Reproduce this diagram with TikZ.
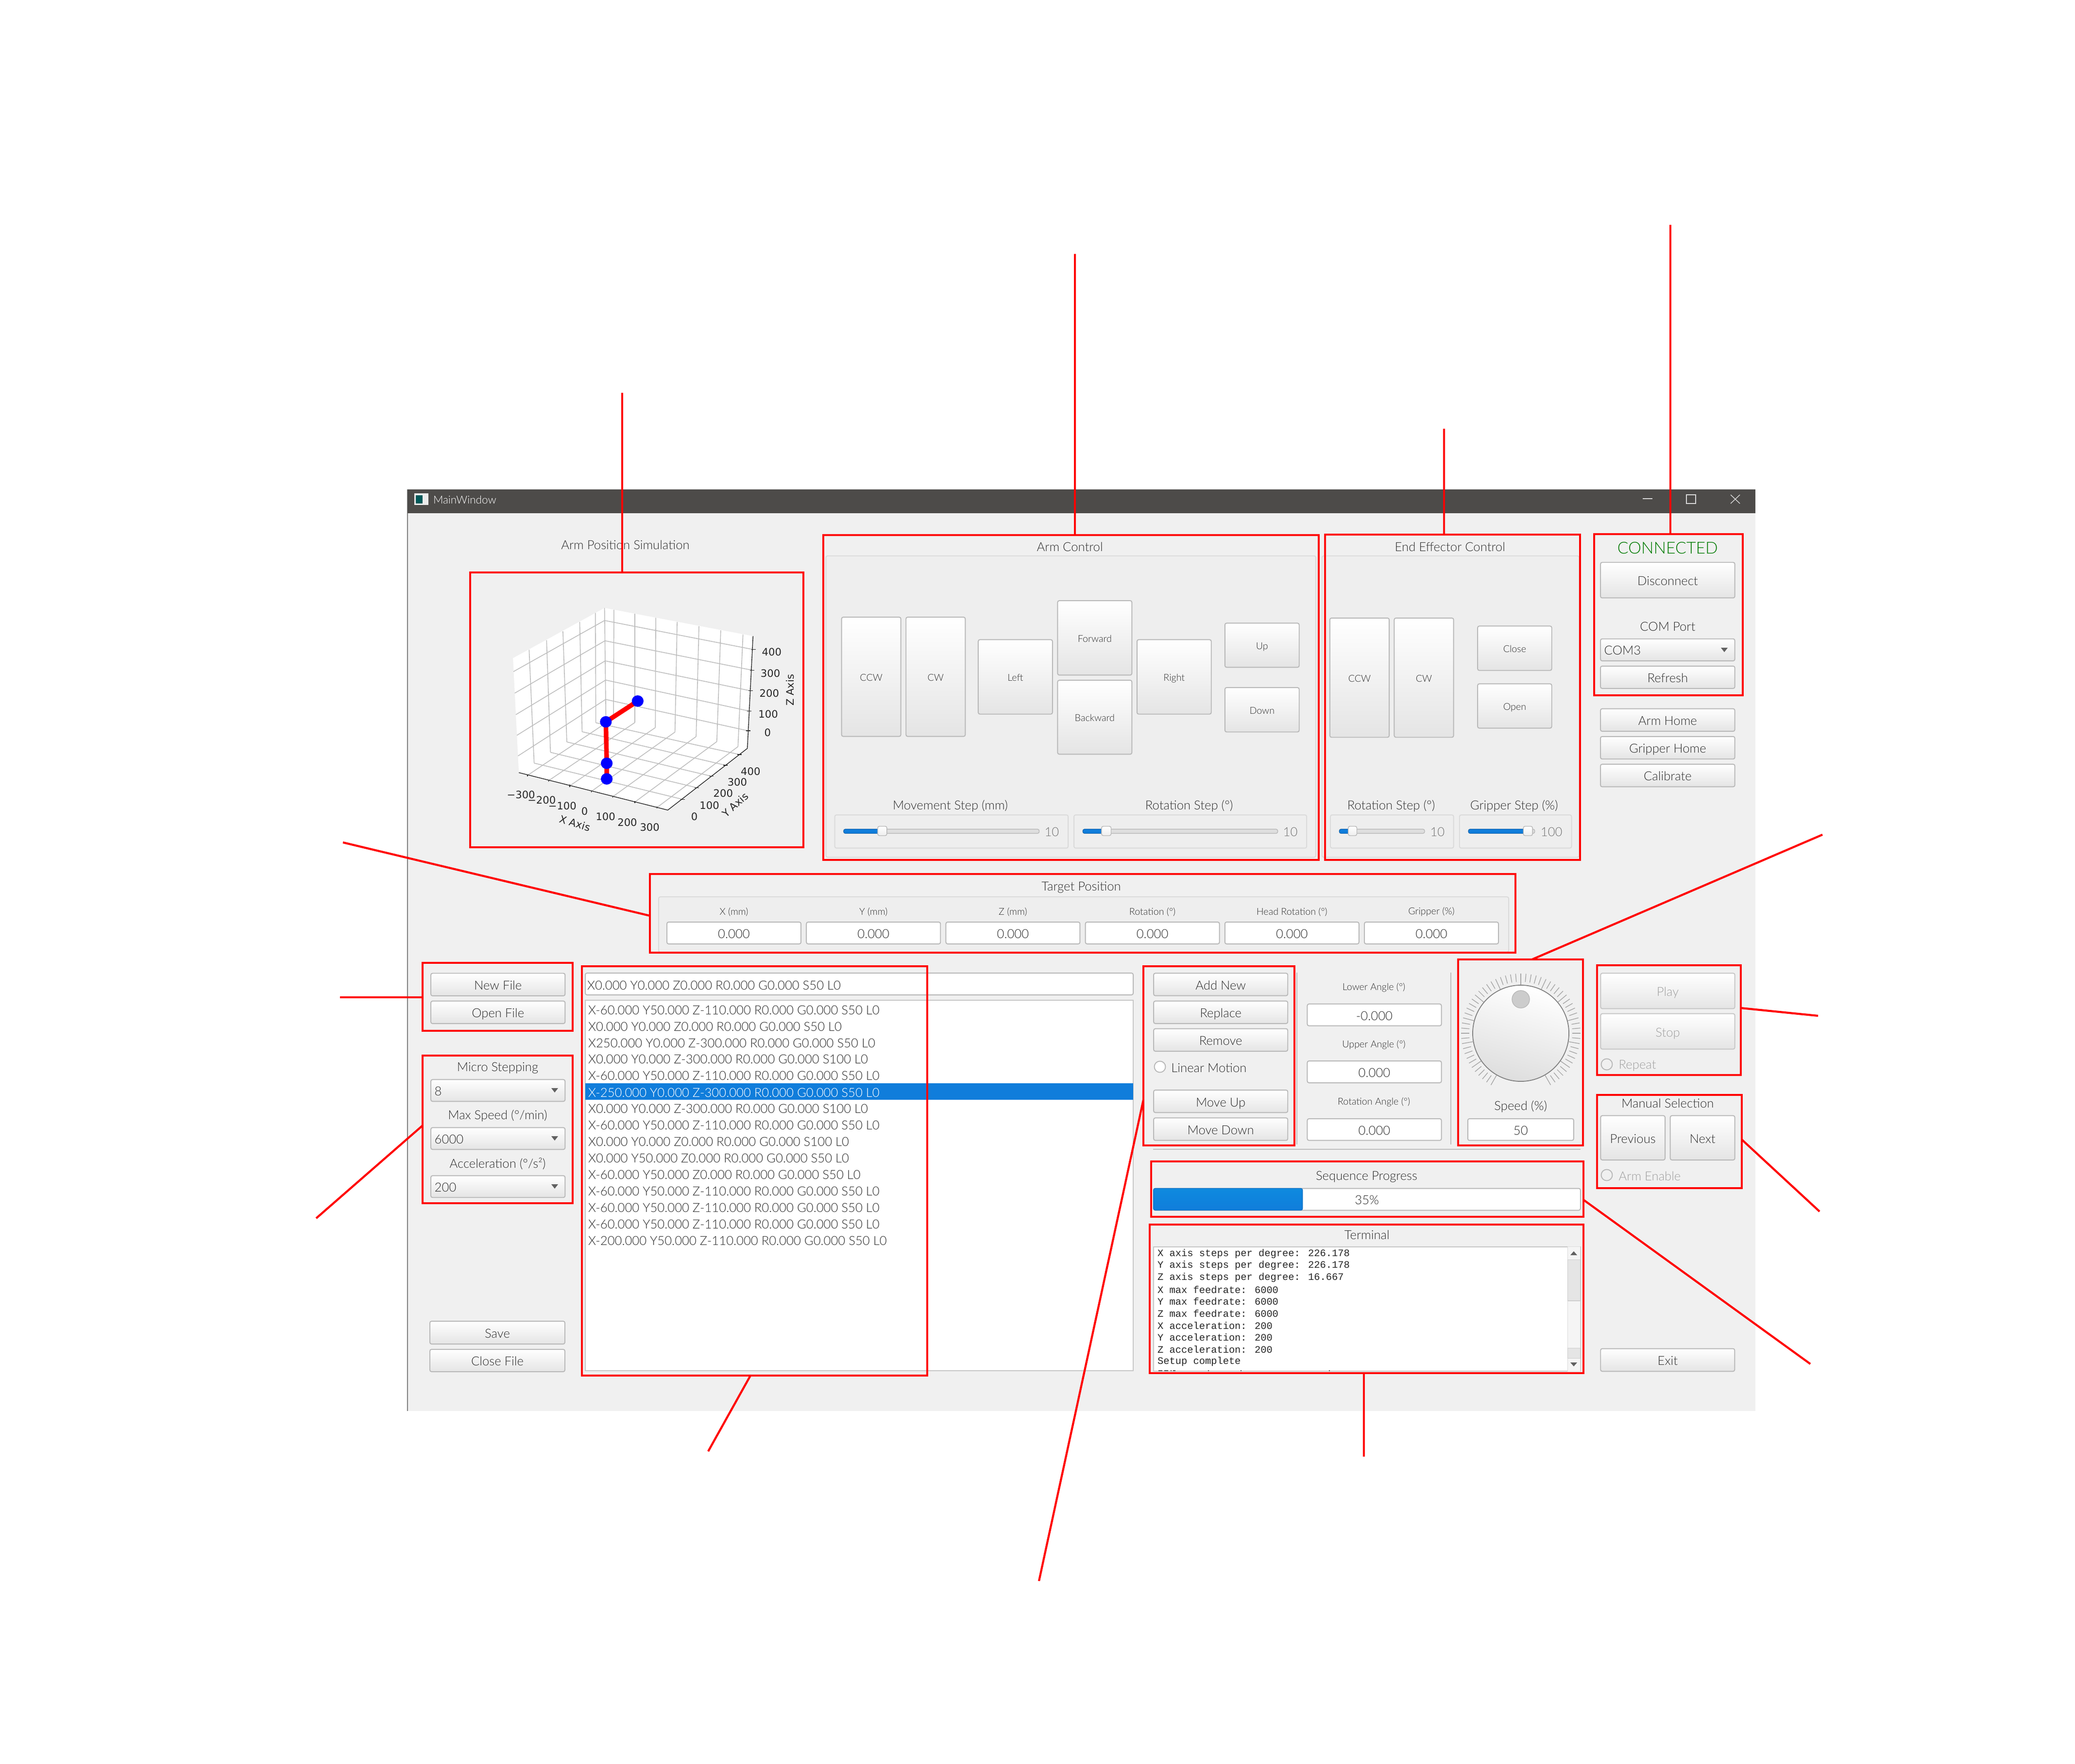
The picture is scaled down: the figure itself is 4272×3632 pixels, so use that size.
\documentclass[tikz,border=0pt]{standalone}
\usepackage{fontspec}
\setmainfont{Lato Light}
\newfontfamily\plotfam{DejaVu Sans}
\newfontfamily\termfam{Liberation Mono}
\definecolor{txtc}{HTML}{303030}
\definecolor{dimc}{HTML}{A0A0A0}
\definecolor{winbg}{HTML}{F0F0F0}
\definecolor{bar}{HTML}{4D4B49}
\definecolor{selblue}{HTML}{107DDB}
\definecolor{grp}{HTML}{EEEEEE}
\definecolor{grpl}{HTML}{DADADA}
\definecolor{btnl}{HTML}{B8B8B8}
\definecolor{gridc}{HTML}{BEBEBE}
\newcommand\fn{\fontsize{7.3}{8.5}\selectfont}
\newcommand\fs{\fontsize{5.6}{6.5}\selectfont}
\tikzset{
  txt/.style={text=txtc,font=\fn,inner sep=0pt,outer sep=0pt},
  small/.style={font=\fs},
  dim/.style={text=dimc},
  uibase/.style={inner sep=0pt,outer sep=0pt,text=txtc,font=\fn,text height=6.15pt,text depth=0pt},
  btn/.style={uibase,draw=btnl,line width=0.55pt,rounded corners=1pt,top color=white,bottom color=grp!96!black},
  btnsm/.style={btn,font=\fs,text height=5pt},
  btndim/.style={btn,text=dimc,draw=btnl!80},
  edit/.style={uibase,draw=btnl,line width=0.55pt,rounded corners=1pt,fill=white},
  grpbox/.style={uibase,draw=grpl,line width=0.55pt,rounded corners=1pt,fill=grp},
  whitebox/.style={uibase,draw=btnl!80,line width=0.55pt,fill=white},
  selband/.style={uibase,fill=selblue},
  track/.style={uibase,text height=0pt,draw=btnl,line width=0.4pt,rounded corners=1pt,fill=black!13},
  trackfill/.style={uibase,text height=0pt,draw=selblue!80!black,line width=0.3pt,rounded corners=1pt,fill=selblue},
  knobh/.style={uibase,text height=0pt,draw=btnl,line width=0.4pt,rounded corners=1pt,top color=white,bottom color=grp},
  progfill/.style={uibase,draw=selblue!90!black,line width=0.4pt,rounded corners=1pt,top color=selblue!90!cyan,bottom color=selblue},
  sbar/.style={uibase,draw=btnl!70,line width=0.3pt,fill=black!10},
  redframe/.style={draw=red,line width=1.2pt,inner sep=0pt,outer sep=0pt},
  conn/.style={draw=red,line width=1.2pt},
  radio/.style={circle,draw=btnl,line width=0.55pt,fill=white,minimum size=0.23cm,inner sep=0pt,outer sep=0pt},
  radiodim/.style={radio,fill=winbg},
  plotlab/.style={txt,font=\fontsize{6}{7}\selectfont\plotfam,text=black!85},
  term/.style={inner sep=0pt,outer sep=0pt,text=black!85,font=\fontsize{5.8}{6.5}\selectfont\termfam},
}
\newcommand\ZF[4]{\def\zox{#1}\def\zoy{#2}\def\zfx{#3}\def\zfy{#4}}
\newcommand\zrect[4]{%
  \pgfmathsetmacro\Xa{\zox+#1/\zfx}\pgfmathsetmacro\Ya{\zoy+#2/\zfy}%
  \pgfmathsetmacro\Xb{\zox+#3/\zfx}\pgfmathsetmacro\Yb{\zoy+#4/\zfy}%
  \pgfmathsetmacro\Cx{(\Xa+\Xb)/2}\pgfmathsetmacro\Cy{(\Ya+\Yb)/2}%
  \pgfmathsetmacro\Wd{(\Xb-\Xa)*0.01}\pgfmathsetmacro\Ht{(\Yb-\Ya)*0.01}}
\newcommand\Btn[7][btn]{\zrect{#3}{#4}{#5}{#6}%
  \node[#1,minimum width=\Wd cm,minimum height=\Ht cm] (#2) at (\Cx,\Cy) {#7};}
\newcommand\Lab[5][]{\pgfmathsetmacro\Xa{\zox+#3/\zfx}\pgfmathsetmacro\Ya{\zoy+#4/\zfy}%
  \node[txt,#1] (#2) at (\Xa,\Ya) {#5};}
\newcommand\Sld[6]{%
  \Btn[track]{#1t}{#2}{1367}{#3}{1386}{}%
  \Btn[trackfill]{#1f}{#2}{1367}{#4}{1386}{}%
  \Btn[knobh]{#1h}{#5}{1354}{#6}{1396}{}}
\newcommand\Tri[2]{\fill[black!62] ({#1-7},{#2-4}) -- ({#1+7},{#2-4}) -- (#1,{#2+5}) -- cycle;}
\newcommand\Frm[5]{\node[redframe,minimum width={(#4-#2)*0.01cm},minimum height={(#5-#3)*0.01cm}] (#1) at ({(#2+#4)/2},{(#3+#5)/2}) {};}
\begin{document}
\begin{tikzpicture}[x=0.01cm,y=-0.01cm]
\useasboundingbox (0,0) rectangle (4272,3632);
\fill[white] (0,0) rectangle (4272,3632);
% window
\ZF{0}{0}{1}{1}
\fill[winbg] (839,1008) rectangle (3614,2906);
\draw[black!50,line width=0.5pt] (839,1008) -- (839,2906);
\fill[bar] (839,1008) rectangle (3614,1057);
\fill[black!8] (853,1016) rectangle (882,1040);
\fill[teal!70!black] (856,1020) rectangle (870,1037);
\Lab[anchor=west,text=white,font=\fontsize{6.4}{7}\selectfont]{wintitle}{892}{1029}{MainWindow}
\draw[white!85!black,line width=0.4pt] (3382,1027) -- (3402,1027);
\draw[white!85!black,line width=0.4pt] (3472,1019) rectangle (3491,1037);
\draw[white!85!black,line width=0.4pt] (3563,1019) -- (3582,1037) (3582,1019) -- (3563,1037);
% simulation
\ZF{820}{990}{1.568}{1.96}
\Lab{simtitle}{733}{260}{Arm Position Simulation}
\begin{scope}[shift={(1000,1180)},x=0.004484cm,y=-0.0037cm]
  \fill[white] (125,475) -- (545,195) -- (1226,352) -- (1200,978) -- (835,1322) -- (152,1113) -- cycle;
  \begin{scope}[draw=gridc,line width=0.45pt]
    \foreach \a/\b/\c/\d in {545/195/551/797,588/205/586/808,684/228/684/834,780/250/778/862,878/273/868/887,978/297/965/912,1078/320/1060/940,1180/343/1157/968,
      199/428/222/1060,279/375/297/1000,354/325/372/942,431/273/442/885,503/223/505/835,
      545/265/1228/427,547/378/1222/542,548/490/1215/657,550/597/1209/770,550/705/1204/880,
      545/265/127/550,547/378/133/670,548/490/138/790,550/597/143/905,550/705/148/1020,
      192/1128/586/808,288/1158/684/834,385/1187/778/862,484/1218/868/887,583/1247/965/912,684/1277/1060/940,785/1308/1157/968,
      222/1060/903/1262,297/1000/968/1197,372/942/1035/1133,442/885/1100/1072,505/835/1163/1012}
      {\draw (\a,\b) -- (\c,\d);}
  \end{scope}
  \draw[black!85,line width=0.4pt] (152,1113) -- (835,1322) -- (1200,978) -- (1226,352);
  \foreach \a/\b in {192/1128,288/1158,385/1187,484/1218,583/1247,684/1277,785/1308}
    {\draw[black!85,line width=0.4pt] (\a,\b-6) -- (\a,\b+6);}
  \foreach \a/\b in {903/1262,968/1197,1035/1133,1100/1072,1163/1012}
    {\draw[black!85,line width=0.4pt] (\a-10,\b) -- (\a+10,\b);}
  \foreach \a/\b in {1228/427,1222/542,1215/657,1209/770,1204/880}
    {\draw[black!85,line width=0.4pt] (\a-10,\b) -- (\a+10,\b);}
  \draw[red,line width=2.7pt,line join=round] (697,714) -- (551,830) -- (555,1061) -- (555,1148);
  \fill[blue] (697,714) circle [x radius=27,y radius=32];
  \fill[blue] (551,830) circle [x radius=27,y radius=32];
  \fill[blue] (555,1061) circle [x radius=27,y radius=32];
  \fill[blue] (555,1148) circle [x radius=27,y radius=32];
\end{scope}
\ZF{1000}{1180}{2.23}{2.703}
\Lab[plotlab]{zt4}{1313}{440}{400}\Lab[plotlab]{zt3}{1307}{558}{300}\Lab[plotlab]{zt2}{1302}{670}{200}\Lab[plotlab]{zt1}{1297}{785}{100}\Lab[plotlab]{zt0}{1294}{890}{0}
\Lab[plotlab,rotate=90]{zax}{1398}{652}{Z Axis}
\Lab[plotlab]{xt1}{162}{1235}{−300}\Lab[plotlab]{xt2}{257}{1265}{−200}\Lab[plotlab]{xt3}{352}{1297}{−100}\Lab[plotlab]{xt4}{454}{1327}{0}\Lab[plotlab]{xt5}{550}{1357}{100}\Lab[plotlab]{xt6}{650}{1388}{200}\Lab[plotlab]{xt7}{753}{1417}{300}
\Lab[plotlab,rotate=-17]{xax}{410}{1393}{X Axis}
\Lab[plotlab]{yt0}{958}{1357}{0}\Lab[plotlab]{yt1}{1027}{1293}{100}\Lab[plotlab]{yt2}{1090}{1227}{200}\Lab[plotlab]{yt3}{1155}{1165}{300}\Lab[plotlab]{yt4}{1216}{1105}{400}
\Lab[plotlab,rotate=42]{yax}{1145}{1290}{Y Axis}
% arm control
\ZF{1680}{1080}{1.4255}{2.178}
\Lab{armtitle}{745}{100}{Arm Control}
\Btn[grpbox]{armgrp}{29}{141}{1467}{1493}{}
\Btn[btnsm]{aCCW}{75}{416}{249}{951}{CCW}
\Btn[btnsm]{aCW}{264}{416}{438}{951}{CW}
\Btn[btnsm]{aLeft}{476}{517}{694}{851}{Left}
\Btn[btnsm]{aFwd}{709}{342}{927}{676}{Forward}
\Btn[btnsm]{aBack}{709}{699}{927}{1031}{Backward}
\Btn[btnsm]{aRight}{942}{517}{1160}{851}{Right}
\Btn[btnsm]{aUp}{1200}{443}{1418}{641}{Up}
\Btn[btnsm]{aDown}{1200}{732}{1418}{931}{Down}
\Lab{mstep}{394}{1263}{Movement Step (mm)}
\Lab{rstep}{1095}{1263}{Rotation Step (°)}
\Btn[grpbox]{sb1}{55}{1303}{740}{1452}{}
\Btn[grpbox]{sb2}{757}{1303}{1440}{1452}{}
\Sld{s1}{81}{655}{194}{181}{208}
\Sld{s2}{783}{1355}{852}{838}{866}
\Lab[text=black!55]{v1}{692}{1380}{10}
\Lab[text=black!55]{v2}{1392}{1380}{10}
% end effector
\ZF{2720}{1080}{1.742}{2.178}
\Lab{endtitle}{462}{100}{End Effector Control}
\Btn[grpbox]{endgrp}{3}{141}{925}{1493}{}
\Btn[btnsm]{eCCW}{31}{420}{244}{955}{CCW}
\Btn[btnsm]{eCW}{262}{420}{475}{955}{CW}
\Btn[btnsm]{eClose}{561}{456}{827}{655}{Close}
\Btn[btnsm]{eOpen}{561}{715}{827}{914}{Open}
\Lab{erstep}{251}{1263}{Rotation Step (°)}
\Lab{egstep}{692}{1263}{Gripper Step (\%)}
\Btn[grpbox]{sb3}{33}{1303}{475}{1452}{}
\Btn[grpbox]{sb4}{496}{1303}{898}{1452}{}
\Sld{s3}{65}{371}{112}{97}{128}
\Sld{s4}{528}{766}{742}{725}{758}
\Lab[text=black!55]{v3}{417}{1380}{10}
\Lab[text=black!55]{v4}{826}{1380}{100}
% connection
\ZF{3240}{1090}{3}{2.8}
\Lab[text=green!48!black,font=\fontsize{9.6}{10}\selectfont]{conn}{580}{107}{CONNECTED}
\Btn{bDisc}{165}{191}{995}{396}{Disconnect}
\Lab{comport}{580}{562}{COM Port}
\Btn{cbCom}{165}{632}{995}{759}{}
\Lab[anchor=west]{comtxt}{188}{698}{COM3}
\Tri{3550}{1338}
\Btn{bRefresh}{165}{789}{995}{918}{Refresh}
\Btn{bArmH}{165}{1035}{995}{1165}{Arm Home}
\Btn{bGripH}{165}{1195}{995}{1325}{Gripper Home}
\Btn{bCal}{165}{1355}{995}{1485}{Calibrate}
% target position
\ZF{0}{0}{1}{1}
\Lab{tgttitle}{2226}{1828}{Target Position}
\Btn[grpbox]{tgtgrp}{1356}{1847}{3106}{1961}{}
\foreach \i/\t in {0/X (mm),1/Y (mm),2/Z (mm),3/Rotation (°),4/Head Rotation (°),5/Gripper (\%)}{
  \pgfmathsetmacro\xc{1511+287.2*\i}
  \Lab[small]{tl\i}{\xc}{1878}{\t}
  \pgfmathsetmacro\xl{\xc-138}\pgfmathsetmacro\xr{\xc+138}
  \Btn[edit]{te\i}{\xl}{1899}{\xr}{1944}{0.000}
}
% files
\ZF{840}{1780}{1.4255}{1.96}
\Btn{bNew}{67}{440}{461}{531}{New File}
\Btn{bOpen}{67}{552}{461}{643}{Open File}
\Lab{lbMicro}{263}{822}{Micro Stepping}
\Btn{cb1}{67}{869}{461}{957}{}
\Lab[anchor=west]{cbt1}{78}{916}{8}
\Lab{lbMax}{263}{1015}{Max Speed (°/min)}
\Btn{cb2}{67}{1063}{461}{1151}{}
\Lab[anchor=west]{cbt2}{78}{1110}{6000}
\Lab{lbAcc}{263}{1208}{Acceleration (°/s²)}
\Btn{cb3}{67}{1257}{461}{1345}{}
\Lab[anchor=west]{cbt3}{78}{1304}{200}
\Tri{1142}{2245}\Tri{1142}{2344}\Tri{1142}{2443}
\ZF{0}{0}{1}{1}
\Btn{bSave}{885}{2721}{1163}{2768}{Save}
\Btn{bClose}{885}{2779}{1163}{2825}{Close File}
% list
\Btn[edit]{lineedit}{1205}{2004}{2333}{2049}{}
\Lab[anchor=west]{letxt}{1209}{2029}{X0.000 Y0.000 Z0.000 R0.000 G0.000 S50 L0}
\Btn[whitebox]{listbox}{1205}{2060}{2333}{2823}{}
\Btn[selband]{selrow}{1205}{2231}{2333}{2265}{}
\foreach \i/\t in {1/X-60.000 Y50.000 Z-110.000 R0.000 G0.000 S50 L0,
  2/X0.000 Y0.000 Z0.000 R0.000 G0.000 S50 L0,
  3/X250.000 Y0.000 Z-300.000 R0.000 G0.000 S50 L0,
  4/X0.000 Y0.000 Z-300.000 R0.000 G0.000 S100 L0,
  5/X-60.000 Y50.000 Z-110.000 R0.000 G0.000 S50 L0,
  7/X0.000 Y0.000 Z-300.000 R0.000 G0.000 S100 L0,
  8/X-60.000 Y50.000 Z-110.000 R0.000 G0.000 S50 L0,
  9/X0.000 Y0.000 Z0.000 R0.000 G0.000 S100 L0,
  10/X0.000 Y50.000 Z0.000 R0.000 G0.000 S50 L0,
  11/X-60.000 Y50.000 Z0.000 R0.000 G0.000 S50 L0,
  12/X-60.000 Y50.000 Z-110.000 R0.000 G0.000 S50 L0,
  13/X-60.000 Y50.000 Z-110.000 R0.000 G0.000 S50 L0,
  14/X-60.000 Y50.000 Z-110.000 R0.000 G0.000 S50 L0,
  15/X-200.000 Y50.000 Z-110.000 R0.000 G0.000 S50 L0}{
  \pgfmathsetmacro\yy{2080+33.95*(\i-1)}
  \Lab[anchor=west]{row\i}{1211}{\yy}{\t}
}
\Lab[anchor=west,text=white]{row6}{1211}{2250}{X-250.000 Y0.000 Z-300.000 R0.000 G0.000 S50 L0}
% edit buttons
\ZF{2340}{1960}{1.568}{3}
\Btn{bAdd}{55}{133}{488}{272}{Add New}
\Btn{bRepl}{55}{305}{488}{444}{Replace}
\Btn{bRem}{55}{476}{488}{615}{Remove}
\node[radio] (rLin) at (2388,2197) {};
\Lab[anchor=west]{lbLin}{112}{717}{Linear Motion}
\Btn{bUp}{55}{855}{488}{994}{Move Up}
\Btn{bDn}{55}{1027}{488}{1166}{Move Down}
\draw[gridc,line width=0.5pt] (2670,2003) -- (2670,2357) (2987,2003) -- (2987,2357) (2374,2367) -- (3254,2367);
\Lab[small]{lbLow}{766}{220}{Lower Angle (°)}
\Btn[edit]{eLow}{551}{323}{984}{458}{-0.000}
\Lab[small]{lbUp}{766}{575}{Upper Angle (°)}
\Btn[edit]{eUp}{551}{675}{984}{810}{0.000}
\Lab[small]{lbRot}{766}{928}{Rotation Angle (°)}
\Btn[edit]{eRot}{551}{1032}{984}{1166}{0.000}
% knob
\foreach \a in {-150,-145,...,150}{
  \pgfmathtruncatemacro\mj{mod(abs(\a),25)==0?100:106}
  \draw[black!35,line width=0.4pt] ({3131+\mj*sin(\a)},{2128-\mj*cos(\a)}) -- ({3131+123*sin(\a)},{2128-123*cos(\a)});
}
\node[circle,draw=black!50,line width=0.5pt,inner sep=0pt,minimum size=1.98cm,top color=white,bottom color=black!13,shading angle=-15] (knob) at (3131,2128) {};
\node[circle,draw=black!28,line width=0.4pt,fill=black!20,inner sep=0pt,minimum size=0.36cm] (knobdot) at (3131,2058) {};
\Lab{lbSpeed}{1240}{958}{Speed (\%)}
\Btn[edit]{eSpeed}{1069}{1032}{1411}{1166}{50}
% play group
\ZF{3260}{1960}{3}{3}
\Btn[btndim]{bPlay}{106}{133}{935}{352}{Play}
\Btn[btndim]{bStop}{106}{383}{935}{602}{Stop}
\node[radiodim] (rRep) at (3308,2192) {};
\Lab[anchor=west,dim]{lbRep}{218}{703}{Repeat}
\Lab{lbMan}{520}{938}{Manual Selection}
\Btn{bPrev}{106}{1013}{504}{1287}{Previous}
\Btn{bNext}{536}{1013}{935}{1287}{Next}
\node[radiodim] (rArm) at (3308,2420) {};
\Lab[anchor=west,dim]{lbArm}{218}{1387}{Arm Enable}
% progress, terminal
\ZF{2340}{2370}{1.206}{2.8}
\Lab{lbSeq}{571}{150}{Sequence Progress}
\Btn[edit]{prog}{42}{217}{1102}{343}{}
\Btn[progfill]{progf}{42}{217}{412}{343}{}
\Lab{lbPct}{572}{285}{35\%}
\Lab{lbTerm}{572}{485}{Terminal}
\Btn[whitebox]{termbox}{42}{553}{1102}{1272}{}
\Btn[uibase,fill=black!4,draw=btnl!50,line width=0.3pt]{sbtrack}{1070}{553}{1102}{1272}{}
\Btn[sbar]{sbh1}{1070}{628}{1102}{865}{}
\Btn[sbar,text height=0pt]{sbh2}{1070}{1138}{1102}{1198}{}
\fill[black!62] (3233,2585) -- (3247,2585) -- (3240,2577) -- cycle;
\fill[black!62] (3233,2806) -- (3247,2806) -- (3240,2814) -- cycle;
\foreach \i/\t in {0/X axis steps per degree: 226.178,1/Y axis steps per degree: 226.178,2/Z axis steps per degree: 16.667,
  3/X max feedrate: 6000,4/Y max feedrate: 6000,5/Z max feedrate: 6000,
  6/X acceleration: 200,7/Y acceleration: 200,8/Z acceleration: 200,9/Setup complete}{
  \pgfmathsetmacro\yy{593+69.1*\i}
  \Lab[term,anchor=west]{term\i}{52}{\yy}{\t}
}
\foreach \a/\b in {2385/2393,2397/2405,2410/2412,2415/2420,2487/2489,2554/2556,2736/2738}
  {\fill[black!65] (\a,2822) rectangle (\b,2824);}
\Btn{bExit}{1152}{1141}{1485}{1272}{Exit}
% red frames
\Frm{fSim}{968}{1179}{1654}{1745}
\Frm{fArm}{1695}{1102}{2715}{1771}
\Frm{fEnd}{2728}{1101}{3253}{1771}
\Frm{fConn}{3282}{1100}{3588}{1432}
\Frm{fTarget}{1338}{1800}{3120}{1962}
\Frm{fFile}{870}{1983}{1179}{2123}
\Frm{fMicro}{870}{2174}{1179}{2478}
\Frm{fList}{1198}{1990}{1909}{2833}
\Frm{fMove}{2354}{1990}{2665}{2359}
\Frm{fKnob}{3002}{1976}{3259}{2359}
\Frm{fPlay}{3288}{1988}{3584}{2214}
\Frm{fManual}{3288}{2255}{3586}{2447}
\Frm{fProg}{2370}{2392}{3260}{2506}
\Frm{fTerm}{2367}{2522}{3260}{2828}
% connectors
\coordinate (eSim) at (1281,809);
\coordinate (eArm) at (2213,523);
\coordinate (eEnd) at (2973,883);
\coordinate (eConn) at (3439,463);
\coordinate (eTarget) at (706,1735);
\coordinate (aTarget) at (1338,1886);
\coordinate (eFile) at (700,2054);
\coordinate (eMicro) at (651,2509);
\coordinate (aMicro) at (870,2318);
\coordinate (eList) at (1458,2989);
\coordinate (aList) at (1545,2833);
\coordinate (eMove) at (2139,3256);
\coordinate (aMove) at (2354,2265);
\coordinate (eTerm) at (2808,3000);
\coordinate (eProg) at (3727,2809);
\coordinate (aProg) at (3260,2471);
\coordinate (eKnob) at (3752,1719);
\coordinate (aKnob) at (3154,1976);
\coordinate (ePlay) at (3743,2092);
\coordinate (aPlay) at (3584,2076);
\coordinate (eMan) at (3746,2495);
\coordinate (aMan) at (3586,2347);
\draw[conn] (eSim) -- (eSim |- fSim.north);
\draw[conn] (eArm) -- (eArm |- fArm.north);
\draw[conn] (eEnd) -- (eEnd |- fEnd.north);
\draw[conn] (eConn) -- (eConn |- fConn.north);
\draw[conn] (eTarget) -- (aTarget -| fTarget.west);
\draw[conn] (eFile) -- (eFile -| fFile.west);
\draw[conn] (eMicro) -- (aMicro -| fMicro.west);
\draw[conn] (eList) -- (aList |- fList.south);
\draw[conn] (eMove) -- (aMove -| fMove.west);
\draw[conn] (eTerm) -- (eTerm |- fTerm.south);
\draw[conn] (eProg) -- (aProg -| fProg.east);
\draw[conn] (eKnob) -- (aKnob |- fKnob.north);
\draw[conn] (ePlay) -- (aPlay -| fPlay.east);
\draw[conn] (eMan) -- (aMan -| fManual.east);
\end{tikzpicture}
\end{document}
